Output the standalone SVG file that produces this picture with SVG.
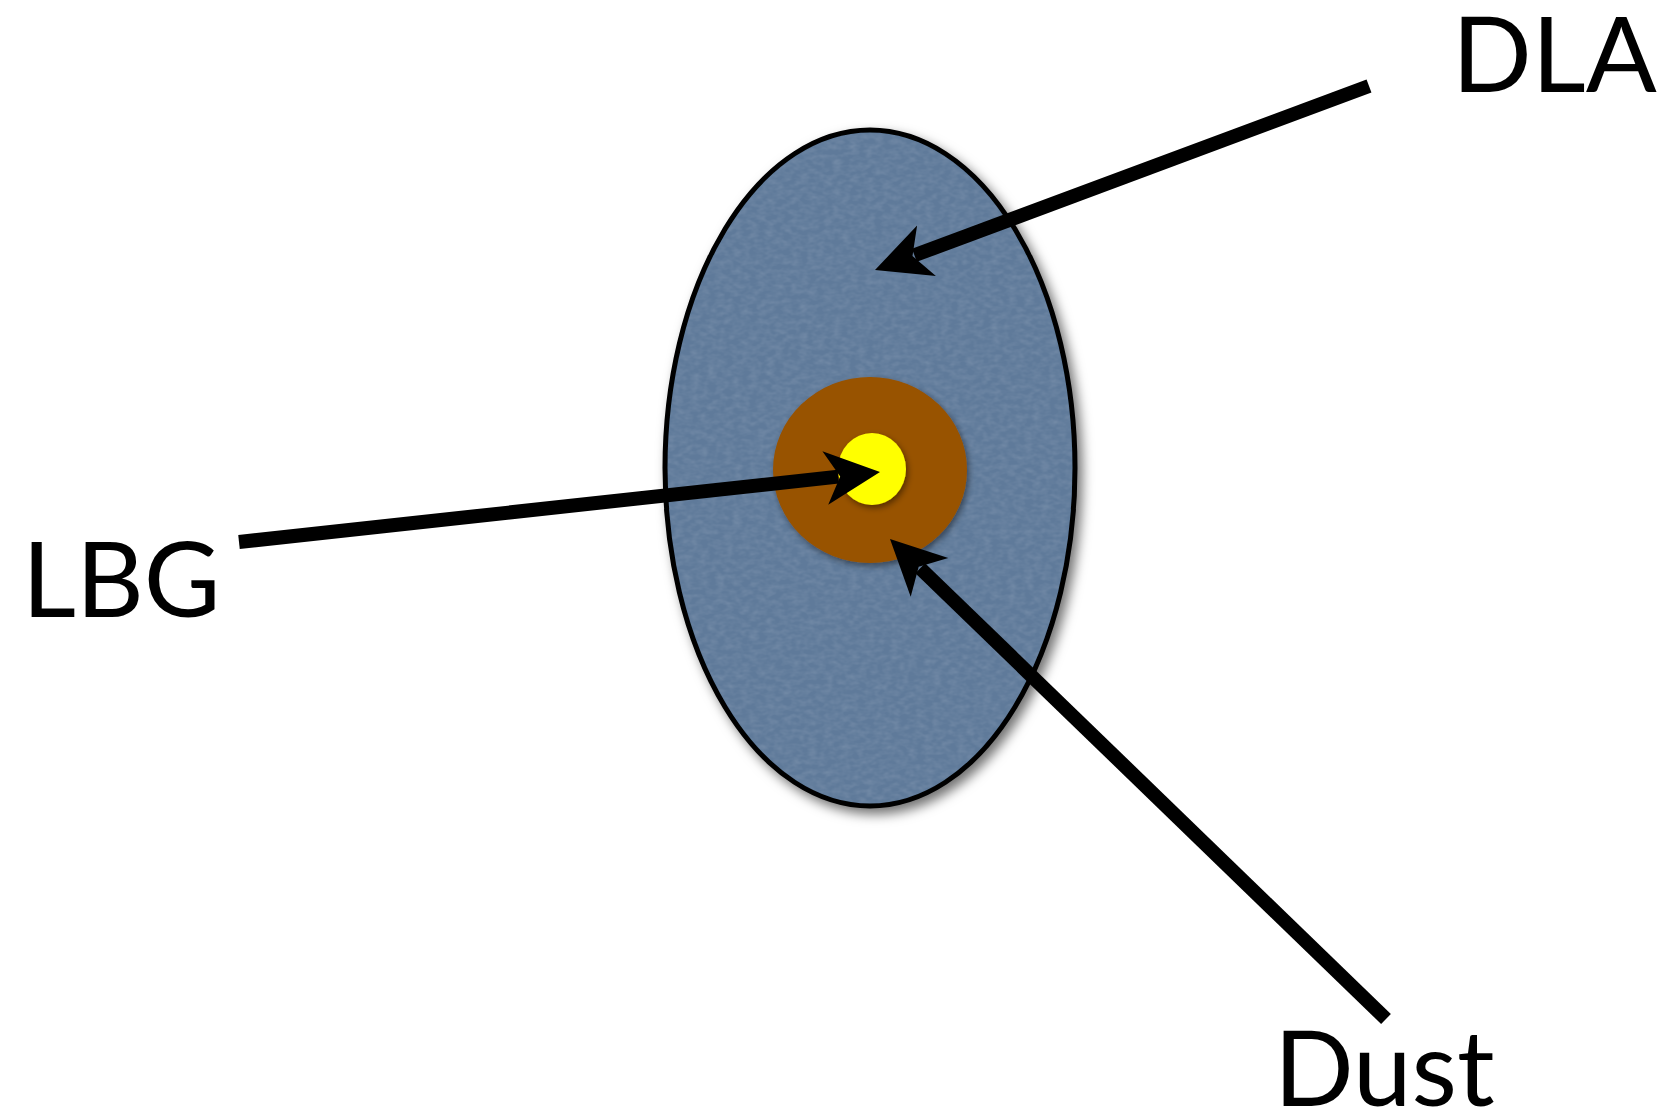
<svg xmlns="http://www.w3.org/2000/svg" width="1675" height="1114" viewBox="0 0 1675 1114">
<style>
.lbl{font-family:Lato,"Open Sans","Liberation Sans",sans-serif;font-size:105px;fill:#000}
.ln{stroke:#000;stroke-width:14;fill:none;stroke-linecap:butt}
.hd{fill:#000;stroke:none}
</style>
<defs>
<filter id="shadow" x="-20%" y="-20%" width="140%" height="140%">
<feDropShadow dx="5" dy="6" stdDeviation="6" flood-color="#000" flood-opacity="0.55"/>
</filter>
<filter id="shadowSm" x="-30%" y="-30%" width="160%" height="160%">
<feDropShadow dx="2" dy="3" stdDeviation="3" flood-color="#000" flood-opacity="0.45"/>
</filter>
<filter id="tex" x="0" y="0" width="100%" height="100%">
<feTurbulence type="fractalNoise" baseFrequency="0.12 0.2" numOctaves="2" seed="4" result="n"/>
<feColorMatrix in="n" type="matrix" values="0 0 0 0 1  0 0 0 0 1  0 0 0 0 1  0 0 0 0.2 -0.07" result="w"/>
<feComposite in="w" in2="SourceGraphic" operator="in"/>
</filter>
</defs>
<rect width="1675" height="1114" fill="#fff"/>
<g id="dla">
<ellipse cx="870" cy="468" rx="205" ry="338" fill="#5e7a9a" stroke="#000" stroke-width="5" filter="url(#shadow)"/>
<ellipse cx="870" cy="468" rx="202" ry="335" fill="#5e7a9a" filter="url(#tex)"/>
</g>
<g id="dust">
<ellipse cx="870" cy="470" rx="97" ry="93" fill="#985200" filter="url(#shadowSm)"/>
</g>
<g id="lbg">
<ellipse cx="872" cy="469" rx="34" ry="36" fill="#ffff00" filter="url(#shadowSm)"/>
</g>
<g id="connectors">
<line class="ln" x1="239" y1="542" x2="838.3" y2="476.6"/>
<polygon class="hd" points="880,472 822.4,451.2 840.2,476.4 828.2,504.8"/>
<line class="ln" x1="1369" y1="86" x2="914.4" y2="255.3"/>
<polygon class="hd" points="875,270 917.1,225.5 912.5,256 935.9,276.1"/>
<line class="ln" x1="1386" y1="1019" x2="920.2" y2="568.2"/>
<polygon class="hd" points="890,539 948.3,557.9 918.7,566.8 910.7,596.7"/>
</g>
<g id="labels">
<text class="lbl" x="1452" y="92">DLA</text>
<text class="lbl" x="22" y="617">LBG</text>
<text class="lbl" x="1274" y="1106">Dust</text>
</g>
</svg>
